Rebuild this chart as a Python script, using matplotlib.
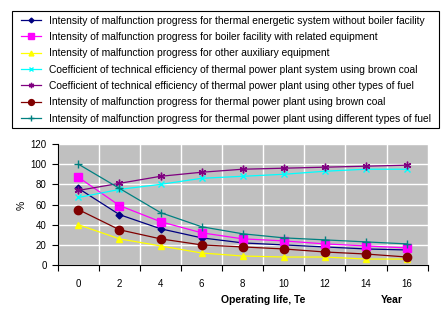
import matplotlib.pyplot as plt
from matplotlib.patches import Rectangle
import numpy as np

years = [0, 2, 4, 6, 8, 10, 12, 14, 16]
y_ticks = [0, 20, 40, 60, 80, 100, 120]

labels = [
    "Intensity of malfunction progress for thermal energetic system without boiler facility",
    "Intensity of malfunction progress for boiler facility with related equipment",
    "Intensity of malfunction progress for other auxiliary equipment",
    "Coefficient of technical efficiency of thermal power plant system using brown coal",
    "Coefficient of technical efficiency of thermal power plant using other types of fuel",
    "Intensity of malfunction progress for thermal power plant using brown coal",
    "Intensity of malfunction progress for thermal power plant using different types of fuel",
]
system_no_boiler = [76, 50, 36, 27, 22, 20, 18, 16, 15]
boiler_facility = [87, 59, 43, 32, 26, 24, 21, 19, 17]
auxiliary = [40, 26, 19, 12, 9, 8, 8, 6, 6]
eff_brown_coal = [67, 75, 80, 86, 88, 90, 93, 95, 95]
eff_other_fuel = [74, 81, 88, 92, 95, 96, 97, 98, 99]
plant_brown_coal = [55, 35, 26, 20, 18, 16, 13, 11, 8]
plant_diff_fuel = [100, 76, 52, 38, 31, 27, 25, 23, 21]

series = [system_no_boiler, boiler_facility, auxiliary, eff_brown_coal,
          eff_other_fuel, plant_brown_coal, plant_diff_fuel]
colors = ["#000080", "#FF00FF", "#FFFF00", "#00FFFF", "#800080", "#800000", "#008080"]
markers = ["D", "s", "^", "x", (6, 2, 0), "o", "+"]
msizes = [3.5, 6, 5, 4.5, 5.5, 6, 5.5]

plt.rcParams["font.family"] = ["Liberation Sans", "DejaVu Sans"]

fig = plt.figure(figsize=(4.45, 3.13), dpi=100)
ax = fig.add_axes([0.13, 0.153, 0.831, 0.387])
ax.set_facecolor("#C0C0C0")

x = np.arange(len(years))
handles = []
for vals, c, m, ms, lab in zip(series, colors, markers, msizes, labels):
    h, = ax.plot(x, vals, color=c, marker=m, markersize=ms, linewidth=0.9,
                 markeredgewidth=1.0, label=lab, zorder=3)
    handles.append(h)

ax.set_xlim(-0.5, len(years) - 0.5)
ax.set_ylim(0, 120)
ax.set_yticks(y_ticks)
ax.set_xticks(x)
ax.set_xticklabels([str(v) for v in years])
ax.set_xticks(np.arange(len(years) + 1) - 0.5, minor=True)
ax.tick_params(axis="x", which="major", length=0, pad=10, labelsize=7)
ax.tick_params(axis="x", which="minor", length=4, width=0.8)
ax.tick_params(axis="y", length=4, width=0.8, labelsize=7, pad=4)
ax.grid(True, axis="y", color="white", linewidth=1)
ax.grid(True, axis="x", which="minor", color="white", linewidth=1)
ax.set_axisbelow(True)
for s in ["top", "right"]:
    ax.spines[s].set_visible(False)
for s in ["left", "bottom"]:
    ax.spines[s].set_linewidth(0.8)

fig.text(22 / 445, 1 - 205 / 313, "%", rotation=90, fontsize=7.5,
         ha="center", va="center")
fig.text(263 / 445, 1 - 300 / 313, "Operating life, Te", fontsize=7.5,
         fontweight="bold", ha="center", va="center")
fig.text(392 / 445, 1 - 300 / 313, "Year", fontsize=7.5,
         fontweight="bold", ha="center", va="center")

# legend frame drawn separately so the inner padding can be set freely
fig.patches.append(Rectangle((12 / 445, 1 - 128 / 313), 427 / 445, 117 / 313,
                             transform=fig.transFigure, facecolor="white",
                             edgecolor="black", linewidth=0.8, zorder=0))
leg = fig.legend(handles=handles, loc="upper left",
                 bbox_to_anchor=(21 / 445, 1 - 15.5 / 313),
                 fontsize=7.4, frameon=False, handlelength=1.95,
                 handletextpad=0.75, labelspacing=0.62, borderaxespad=0,
                 borderpad=0, markerscale=0.7)

fig.savefig("out.png", dpi=100)
